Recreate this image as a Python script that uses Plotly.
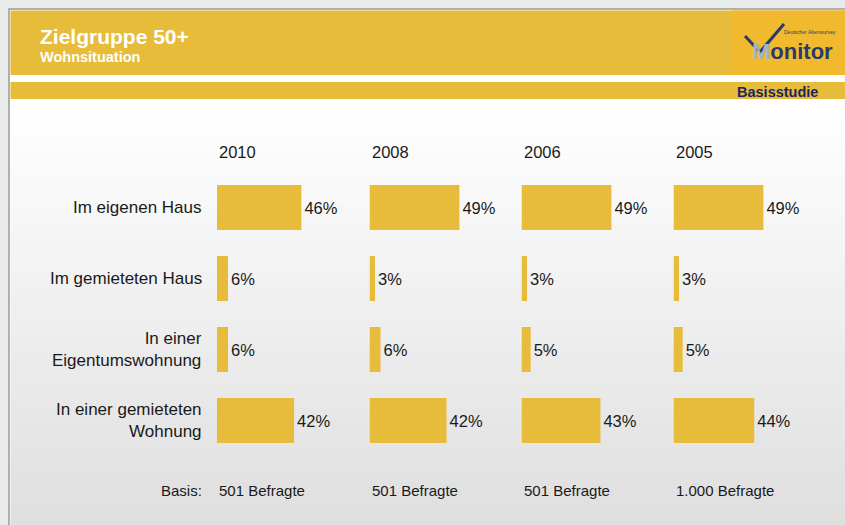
import plotly.graph_objects as go

# ---- data ----
years = ["2010", "2008", "2006", "2005"]
categories = ["Im eigenen Haus", "Im gemieteten Haus", "In einer<br>Eigentumswohnung", "In einer gemieteten<br>Wohnung"]
values_2010 = [46, 6, 6, 42]
values_2008 = [49, 3, 6, 42]
values_2006 = [49, 3, 5, 43]
values_2005 = [49, 3, 5, 44]
bases = ["501 Befragte", "501 Befragte", "501 Befragte", "1.000 Befragte"]
title = "Zielgruppe 50+"
subtitle = "Wohnsituation"
tag = "Basisstudie"

series = [values_2010, values_2008, values_2006, values_2005]

W, H = 845, 525
def px(x):
    return x / W
def py(y):
    return 1 - y / H

BAR = "#e6bc3a"
FONT = "Liberation Sans, Arial, sans-serif"

fig = go.Figure()

panel_x0 = [217, 369.5, 521.5, 673.5]
scale = 1.835  # px per percent
xmax = 80
row_top, row_step = 172, 71
ybot = row_top + 4 * row_step

layout_axes = {}
for i, (vals, yr) in enumerate(zip(series, years)):
    xa = "x" if i == 0 else f"x{i+1}"
    fig.add_trace(go.Bar(
        x=vals, y=list(range(len(categories))), orientation="h",
        xaxis=xa, yaxis="y",
        marker=dict(color=BAR, line=dict(width=0)),
        width=0.634,
        text=[f"{v}%" for v in vals], textposition="outside",
        textfont=dict(family=FONT, size=16.5, color="#1a1a1a"),
        cliponaxis=False, hoverinfo="skip", showlegend=False,
    ))
    key = "xaxis" if i == 0 else f"xaxis{i+1}"
    x0 = panel_x0[i]
    layout_axes[key] = dict(domain=[px(x0), px(x0 + xmax * scale)], range=[0, xmax],
                            visible=False, anchor="y", fixedrange=True)

fig.update_layout(**layout_axes)
fig.update_layout(yaxis=dict(domain=[py(ybot), py(row_top)], range=[3.5, -0.5],
                             visible=False, anchor="x", fixedrange=True))

shapes = []
# frame background
shapes.append(dict(type="rect", xref="paper", yref="paper", x0=px(9), x1=px(W + 5), y0=py(H + 5), y1=py(9),
                   fillcolor="#ffffff", line=dict(color="#9a9a9a", width=1.5), layer="below"))
# gradient content area
n = 40
top, bottom = 99, H
for k in range(n):
    t = k / (n - 1)
    c = int(round(255 - t * (255 - 224)))
    c2 = int(round(255 - t * (255 - 223)))
    y0 = top + (bottom - top) * k / n
    y1 = top + (bottom - top) * (k + 1) / n
    shapes.append(dict(type="rect", xref="paper", yref="paper", x0=px(10.5), x1=px(W + 5),
                       y0=py(y1 + 0.5), y1=py(y0), fillcolor=f"rgb({c},{c2},{c2})",
                       line=dict(width=0), layer="below"))
# header band
shapes.append(dict(type="rect", xref="paper", yref="paper", x0=px(10.5), x1=px(W + 5), y0=py(75), y1=py(10.5),
                   fillcolor=BAR, line=dict(width=0), layer="below"))
# white gap
shapes.append(dict(type="rect", xref="paper", yref="paper", x0=px(10.5), x1=px(W + 5), y0=py(82), y1=py(75),
                   fillcolor="#ffffff", line=dict(width=0), layer="below"))
# stripe
shapes.append(dict(type="rect", xref="paper", yref="paper", x0=px(10.5), x1=px(W + 5), y0=py(99), y1=py(82),
                   fillcolor=BAR, line=dict(width=0), layer="below"))
# logo background
shapes.append(dict(type="rect", xref="paper", yref="paper", x0=px(731), x1=px(W + 5), y0=py(75), y1=py(10.5),
                   fillcolor="#f0b92e", line=dict(width=0), layer="below"))
# logo check mark
shapes.append(dict(type="path", xref="paper", yref="paper",
                   path=f"M {px(745)},{py(36)} L {px(760)},{py(52)} L {px(784)},{py(24)}",
                   line=dict(color="#2a3a6a", width=3), layer="above"))
fig.update_layout(shapes=shapes)

ann = []
ann.append(dict(text=f"<b>{title}</b>", x=px(38), y=py(36), xref="paper", yref="paper",
                xanchor="left", yanchor="middle", showarrow=False,
                font=dict(family=FONT, size=21, color="#ffffff")))
ann.append(dict(text=f"<b>{subtitle}</b>", x=px(38), y=py(57), xref="paper", yref="paper",
                xanchor="left", yanchor="middle", showarrow=False,
                font=dict(family=FONT, size=14.5, color="#ffffff")))
ann.append(dict(text=f"<b>{tag}</b>", x=px(820), y=py(92), xref="paper", yref="paper",
                xanchor="right", yanchor="middle", showarrow=False,
                font=dict(family=FONT, size=14.5, color="#1c2560")))
# logo text
ann.append(dict(text="<b><span style='color:#9fb3cc'>M</span>onitor</b>", x=px(792), y=py(51), xref="paper", yref="paper",
                xanchor="center", yanchor="middle", showarrow=False,
                font=dict(family=FONT, size=22, color="#2a3a6a")))
ann.append(dict(text="Deutscher Alterssurvey", x=px(810), y=py(32), xref="paper", yref="paper",
                xanchor="center", yanchor="middle", showarrow=False,
                font=dict(family=FONT, size=5, color="#2a3a6a")))

# years
for i, yr in enumerate(years):
    ann.append(dict(text=yr, x=px(panel_x0[i]), y=py(152), xref="paper", yref="paper",
                    xanchor="left", yanchor="middle", showarrow=False,
                    font=dict(family=FONT, size=16.5, color="#1a1a1a")))
# categories
for j, cat in enumerate(categories):
    ann.append(dict(text=cat, x=px(204), y=j, xref="paper", yref="y",
                    xanchor="right", yanchor="middle", align="right", showarrow=False,
                    font=dict(family=FONT, size=17, color="#1a1a1a")))
# bases
ann.append(dict(text="Basis:", x=px(204), y=py(490), xref="paper", yref="paper",
                xanchor="right", yanchor="middle", showarrow=False,
                font=dict(family=FONT, size=15, color="#1a1a1a")))
for i, b in enumerate(bases):
    ann.append(dict(text=b, x=px(panel_x0[i]), y=py(490), xref="paper", yref="paper",
                    xanchor="left", yanchor="middle", showarrow=False,
                    font=dict(family=FONT, size=15, color="#1a1a1a")))

fig.update_layout(annotations=ann, width=W, height=H,
                  margin=dict(l=0, r=0, t=0, b=0),
                  paper_bgcolor="#e9ebea", plot_bgcolor="rgba(0,0,0,0)",
                  bargap=0.3, font=dict(family=FONT))

fig.write_html("out.html", config={"displayModeBar": False},
               post_script="document.body.style.margin='0';document.body.style.overflow='hidden';")
